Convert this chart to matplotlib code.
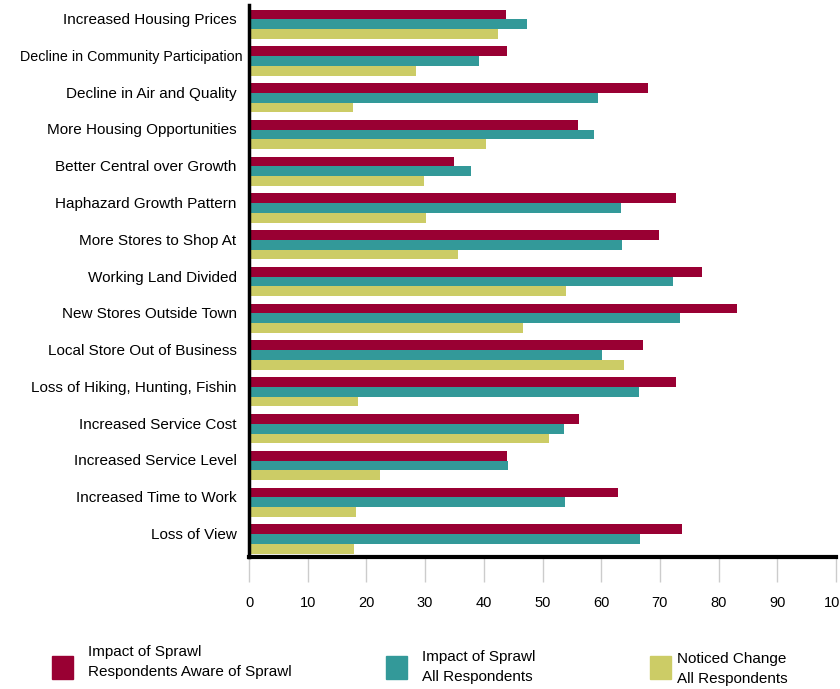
import numpy as np
import matplotlib.pyplot as plt
from matplotlib.patches import Rectangle

plt.rcParams['font.family'] = ['Liberation Sans', 'DejaVu Sans']

# Data
categories = ['Increased Housing Prices', 'Decline in Community Participation',
              'Decline in Air and Quality', 'More Housing Opportunities',
              'Better Central over Growth', 'Haphazard Growth Pattern',
              'More Stores to Shop At', 'Working Land Divided',
              'New Stores Outside Town', 'Local Store Out of Business',
              'Loss of Hiking, Hunting, Fishin', 'Increased Service Cost',
              'Increased Service Level', 'Increased Time to Work', 'Loss of View']
aware = [43.8, 44.0, 67.9, 56.1, 35.0, 72.8, 69.9, 77.1, 83.1, 67.1, 72.7, 56.3, 44.0, 62.9, 73.8]
all_resp = [47.3, 39.2, 59.5, 58.8, 37.9, 63.3, 63.5, 72.3, 73.4, 60.1, 66.5, 53.6, 44.2, 53.8, 66.6]
noticed = [42.5, 28.4, 17.8, 40.3, 29.8, 30.2, 35.6, 54.0, 46.7, 63.8, 18.5, 51.1, 22.3, 18.2, 17.9]

series_names = ['Impact of Sprawl\nRespondents Aware of Sprawl',
                'Impact of Sprawl\nAll Respondents',
                'Noticed Change\nAll Respondents']
colors = ['#990033', '#339999', '#cccc66']

fig = plt.figure(figsize=(8.4, 6.89), dpi=100)
ax = fig.add_axes([249 / 840, 1 - 557 / 689, 587 / 840, 552 / 689])

y = np.arange(len(categories))
h = 0.265
ax.barh(y - h, aware, height=h, color=colors[0])
ax.barh(y, all_resp, height=h, color=colors[1])
ax.barh(y + h, noticed, height=h, color=colors[2])

ax.set_xlim(0, 100)
ax.set_ylim(14.49, -0.52)
ax.set_xticks(np.arange(0, 101, 10))

# labels sit a little above the group centre
ax.set_yticks(y - 0.15)
ax.set_yticklabels(categories, fontsize=11)
for lbl in ax.get_yticklabels():
    if lbl.get_text().startswith('Decline in Community'):
        lbl.set_fontsize(10.3)
        lbl.set_x(0.01)
ax.tick_params(axis='y', length=0, pad=9)
ax.tick_params(axis='x', direction='out', length=18, width=1, color='#cccccc',
               labelsize=10.5, pad=10)

for s in ['top', 'right']:
    ax.spines[s].set_visible(False)
ax.spines['left'].set_linewidth(2.5)
ax.spines['bottom'].set_linewidth(3)

# legend
leg_x = [52, 386, 650]
txt_x = [88, 422, 677]
txt_y = [662, 667, 669]
for i in range(3):
    fig.add_artist(Rectangle((leg_x[i] / 840, 1 - 679 / 689), 21 / 840, 23 / 689,
                             transform=fig.transFigure, color=colors[i]))
    fig.text(txt_x[i] / 840, 1 - txt_y[i] / 689, series_names[i], fontsize=11,
             va='center', ha='left', linespacing=1.5)

fig.savefig('out.png', dpi=100)
